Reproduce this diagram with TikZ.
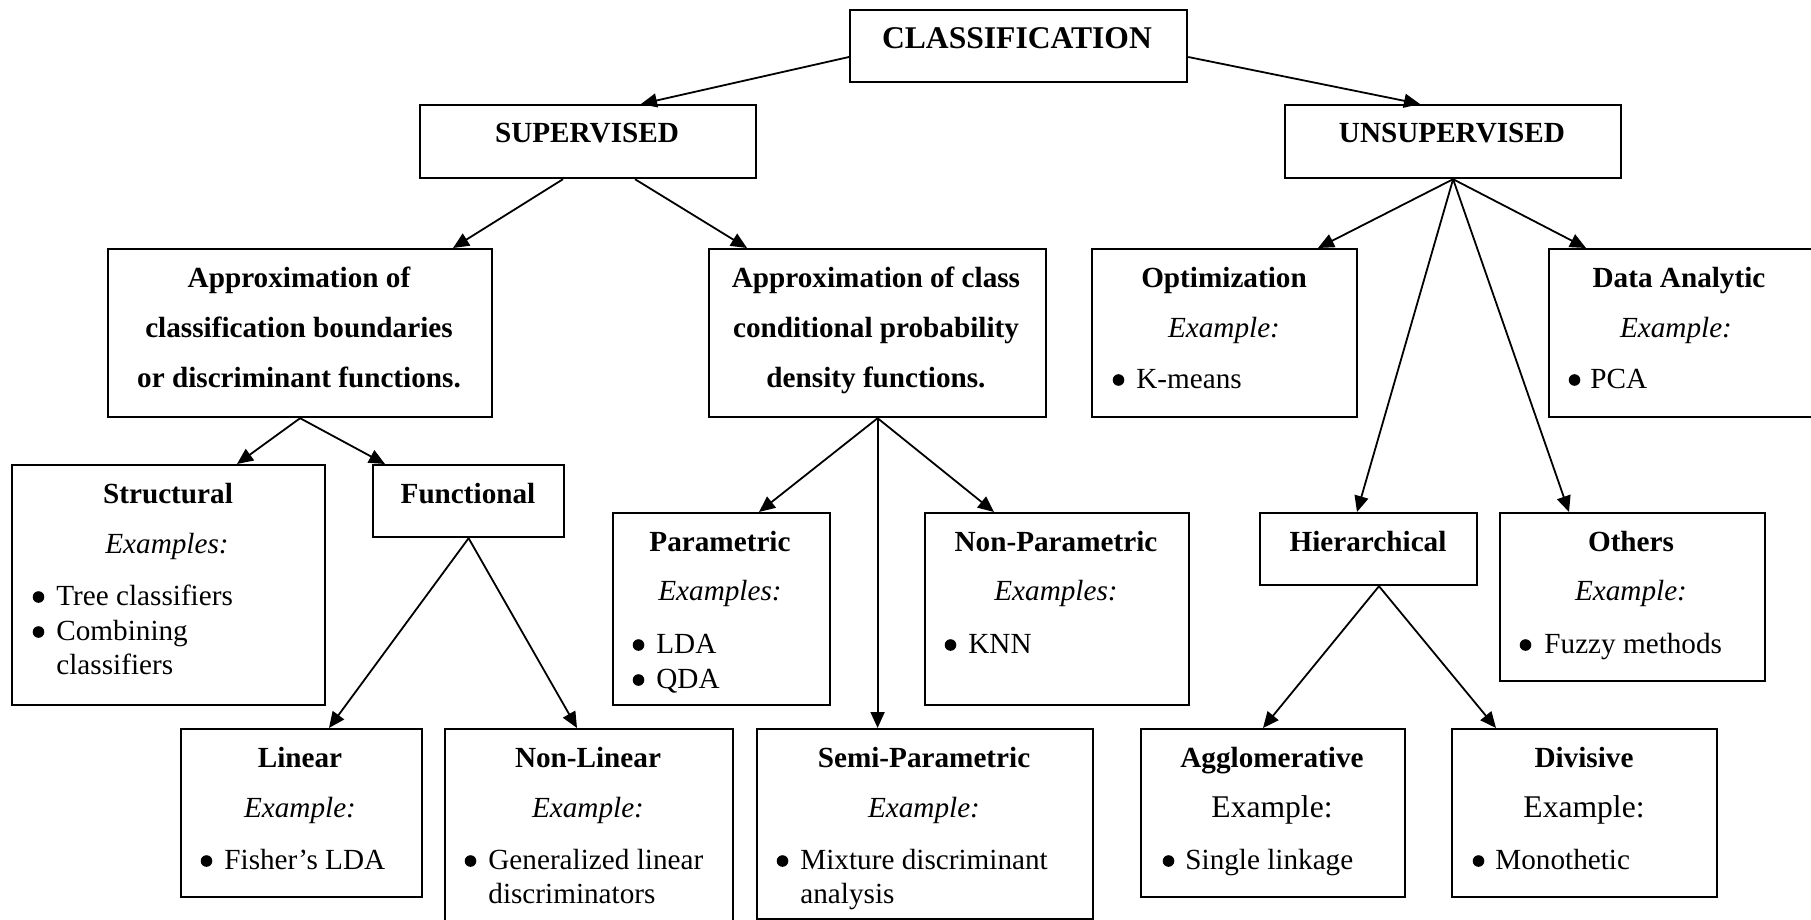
\documentclass[tikz,border=0pt]{standalone}
\usepackage{fontspec}
\setmainfont{Liberation Serif}
\usetikzlibrary{arrows.meta,calc}
\newcommand\Bx[5]{\node[box,minimum width={(#4-#2)*0.5pt},minimum height={(#5-#3)*0.5pt}] (#1) at (#2,#3) {};}
\newcommand\Tt[4]{\node[ttl] (#1) at (#2,#3) {#4};}
\newcommand\Te[4]{\node[exa] (#1) at (#2,#3) {#4};}
\newcommand\Tb[5]{\node[bul] (#1b) at (#2+5.5,#4-8) {};\node[itm] (#1) at (#3,#4) {#5};}
\newcommand\Tc[4]{\node[itm] (#1) at (#2,#3) {#4};}
\begin{document}
\begin{tikzpicture}[x=0.5pt,y=-0.5pt,
  box/.style={draw, line width=1.1pt, inner sep=0pt, anchor=north west},
  arr/.style={line width=0.9pt, -{Triangle[length=8pt,width=7pt]}},
  ttl/.style={anchor=base, inner sep=0pt, font=\fontsize{14.6pt}{17pt}\selectfont\bfseries},
  big/.style={anchor=base, inner sep=0pt, font=\fontsize{15.8pt}{19pt}\selectfont\bfseries},
  exa/.style={anchor=base, inner sep=0pt, font=\fontsize{14.6pt}{17pt}\selectfont\itshape},
  exu/.style={anchor=base, inner sep=0pt, font=\fontsize{15.8pt}{19pt}\selectfont},
  itm/.style={anchor=base west, inner sep=0pt, font=\fontsize{14.6pt}{17pt}\selectfont},
  bul/.style={circle, fill=black, inner sep=0pt, minimum size=5.8pt},
]
\useasboundingbox (0,0) rectangle (1811,920);
% boxes
\Bx{cls}{849}{9}{1186}{81}
\Bx{sup}{419}{104}{755}{177}
\Bx{uns}{1284}{104}{1620}{177}
\Bx{a1}{107}{248}{491}{416}
\Bx{a2}{708}{248}{1045}{416}
\Bx{opt}{1091}{248}{1356}{416}
\Bx{da}{1548}{248}{1830}{416}
\Bx{str}{11}{464}{324}{704}
\Bx{fun}{372}{464}{563}{536}
\Bx{par}{612}{512}{829}{704}
\Bx{np}{924}{512}{1188}{704}
\Bx{hier}{1259}{512}{1476}{584}
\Bx{oth}{1499}{512}{1764}{680}
\Bx{lin}{180}{728}{421}{896}
\Bx{nl}{444}{728}{732}{935}
\Bx{semi}{756}{728}{1092}{918}
\Bx{agg}{1140}{728}{1404}{896}
\Bx{div}{1451}{728}{1716}{896}
% texts
\node[big] (tcls) at (1017,49) {CLASSIFICATION};
\Tt{tsup}{587}{143}{SUPERVISED}
\Tt{tuns}{1452}{143}{UNSUPERVISED}
\Tt{ta1a}{299}{287}{Approximation of}
\Tt{ta1b}{299}{337}{classification boundaries}
\Tt{ta1c}{299}{387}{or discriminant functions.}
\Tt{ta2a}{876}{287}{Approximation of class}
\Tt{ta2b}{876}{337}{conditional probability}
\Tt{ta2c}{876}{387}{density functions.}
\Tt{topt}{1224}{287}{Optimization}
\Te{eopt}{1224}{337}{Example:}
\Tb{iopt}{1113}{1136}{388}{K-means}
\Tt{tda}{1679}{287}{Data Analytic}
\Te{eda}{1676}{337}{Example:}
\Tb{ida}{1569}{1590}{388}{PCA}
\Tt{tstr}{168}{503}{Structural}
\Te{estr}{167}{553}{Examples:}
\Tb{istra}{33}{56}{605}{Tree classifiers}
\Tb{istrb}{33}{56}{640}{Combining}
\Tc{istrc}{56}{674}{classifiers}
\Tt{tfun}{468}{503}{Functional}
\Tt{tpar}{720}{551}{Parametric}
\Te{epar}{720}{600}{Examples:}
\Tb{ipara}{633}{656}{653}{LDA}
\Tb{iparb}{633}{656}{688}{QDA}
\Tt{tnp}{1056}{551}{Non-Parametric}
\Te{enp}{1056}{600}{Examples:}
\Tb{inp}{945}{968}{653}{KNN}
\Tt{thier}{1368}{551}{Hierarchical}
\Tt{toth}{1631}{551}{Others}
\Te{eoth}{1631}{600}{Example:}
\Tb{ioth}{1520}{1544}{653}{Fuzzy methods}
\Tt{tlin}{300}{767}{Linear}
\Te{elin}{300}{817}{Example:}
\Tb{ilin}{201}{224}{869}{Fisher’s LDA}
\Tt{tnl}{588}{767}{Non-Linear}
\Te{enl}{588}{817}{Example:}
\Tb{inla}{465}{488}{869}{Generalized linear}
\Tc{inlb}{488}{903}{discriminators}
\Tt{tsemi}{924}{767}{Semi-Parametric}
\Te{esemi}{924}{817}{Example:}
\Tb{isemia}{777}{800}{869}{Mixture discriminant}
\Tc{isemib}{800}{903}{analysis}
\Tt{tagg}{1272}{767}{Agglomerative}
\node[exu] (eagg) at (1272,817) {Example:};
\Tb{iagg}{1163}{1185}{869}{Single linkage}
\Tt{tdiv}{1584}{767}{Divisive}
\node[exu] (ediv) at (1584,817) {Example:};
\Tb{idiv}{1473}{1495}{869}{Monothetic}
% connectors
\draw[arr] ($(cls.north west)+(0,48)$) -- ($(sup.north west)+(222,0)$);
\draw[arr] ($(cls.north east)+(0,48)$) -- ($(uns.north west)+(136,0)$);
\draw[arr] ($(sup.south west)+(144,0)$) -- ($(a1.north west)+(346,0)$);
\draw[arr] ($(sup.south west)+(216,0)$) -- ($(a2.north west)+(39,0)$);
\draw[arr] (uns.south) -- ($(opt.north west)+(227,0)$);
\draw[arr] (uns.south) -- ($(da.north west)+(38,0)$);
\draw[arr] (uns.south) -- ($(hier.north west)+(98,0)$);
\draw[arr] (uns.south) -- ($(oth.north west)+(70,0)$);
\draw[arr] (a1.south) -- ($(str.north west)+(226,0)$);
\draw[arr] (a1.south) -- ($(fun.north west)+(13,0)$);
\draw[arr] (a2.south) -- ($(par.north west)+(147,0)$);
\draw[arr] (a2.south) -- (a2.south |- semi.north);
\draw[arr] (a2.south) -- ($(np.north west)+(70,0)$);
\draw[arr] (fun.south) -- ($(lin.north west)+(149,0)$);
\draw[arr] (fun.south) -- ($(nl.north west)+(133,0)$);
\draw[arr] ($(hier.south west)+(120,0)$) -- ($(agg.north west)+(123,0)$);
\draw[arr] ($(hier.south west)+(120,0)$) -- ($(div.north west)+(45,0)$);
\end{tikzpicture}
\end{document}
